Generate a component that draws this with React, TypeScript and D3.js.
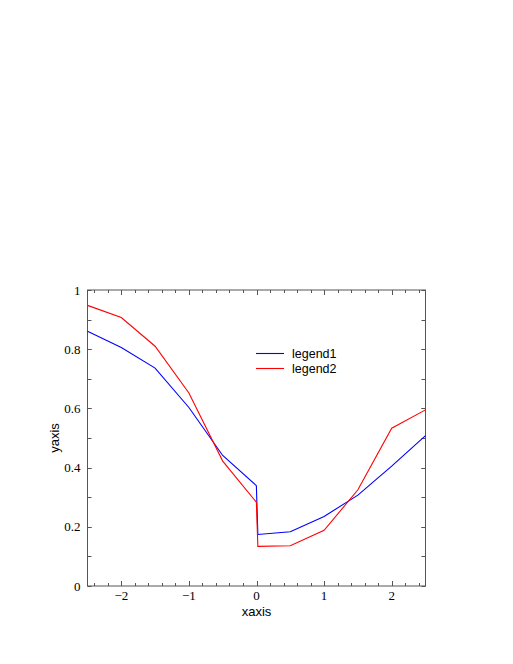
import * as d3 from 'd3';
import { useEffect, useRef } from 'react';

// x positions; 0 appears twice because of the jump
const xValues = [-2.5, -2, -1.5, -1, -0.5, -0.002, 0.02, 0.5, 1, 1.5, 2, 2.5];
const legend1 = [0.861, 0.806, 0.736, 0.603, 0.441, 0.339, 0.174, 0.183, 0.235, 0.307, 0.405, 0.508];
const legend2 = [0.948, 0.907, 0.81, 0.652, 0.422, 0.283, 0.134, 0.136, 0.188, 0.325, 0.533, 0.595];
const seriesNames = ['legend1', 'legend2'];
const seriesColors = ['#0000ff', '#ff0000'];
const xTicks = [-2, -1, 0, 1, 2];
const yTicks = [0, 0.2, 0.4, 0.6, 0.8, 1];

const App = () => {
  const ref = useRef<SVGSVGElement>(null);

  useEffect(() => {
    const svg = d3.select(ref.current);
    svg.selectAll('*').remove();

    const left = 87.5, right = 425.5, top = 290, bottom = 586;
    const x = d3.scaleLinear().domain([-2.5, 2.5]).range([left, right]);
    const y = d3.scaleLinear().domain([0, 1]).range([bottom, top]);
    const frameColor = '#555';

    // minor and major ticks, inward on all four sides
    const xMinor = d3.range(-2.4, 2.41, 0.2).map((v) => +v.toFixed(2));
    const yMinor = d3.range(0.1, 1, 0.1).map((v) => +v.toFixed(2));
    const tickG = svg.append('g').attr('stroke', frameColor).attr('stroke-width', 1);

    const drawX = (vals: number[], len: number) => {
      vals.forEach((v) => {
        const px = Math.round(x(v)) + 0.5;
        tickG.append('line').attr('x1', px).attr('x2', px).attr('y1', bottom).attr('y2', bottom - len);
        tickG.append('line').attr('x1', px).attr('x2', px).attr('y1', top).attr('y2', top + len);
      });
    };
    const drawY = (vals: number[], len: number) => {
      vals.forEach((v) => {
        const py = Math.round(y(v)) + 0.5;
        tickG.append('line').attr('y1', py).attr('y2', py).attr('x1', left).attr('x2', left + len);
        tickG.append('line').attr('y1', py).attr('y2', py).attr('x1', right).attr('x2', right - len);
      });
    };
    drawX(xMinor, 3);
    drawX(xTicks, 5);
    drawY(yMinor, 4);
    drawY(yTicks, 4);

    svg
      .append('rect')
      .attr('x', left)
      .attr('y', top)
      .attr('width', right - left)
      .attr('height', bottom - top)
      .attr('fill', 'none')
      .attr('stroke', frameColor)
      .attr('stroke-width', 1);

    const fmt = d3.format('');
    svg
      .append('g')
      .selectAll('text')
      .data(xTicks)
      .join('text')
      .attr('x', (d) => x(d))
      .attr('y', 600)
      .attr('text-anchor', 'middle')
      .style('font-family', '"Liberation Serif", serif')
      .style('font-size', '13px')
      .text((d) => fmt(d));

    svg
      .append('g')
      .selectAll('text')
      .data(yTicks)
      .join('text')
      .attr('x', 80.5)
      .attr('y', (d) => y(d) + 4.5)
      .attr('text-anchor', 'end')
      .style('font-family', '"Liberation Serif", serif')
      .style('font-size', '13px')
      .text((d) => fmt(d));

    svg
      .append('text')
      .attr('x', x(0))
      .attr('y', 616)
      .attr('text-anchor', 'middle')
      .style('font-family', '"Liberation Sans", sans-serif')
      .style('font-size', '13px')
      .text('xaxis');

    svg
      .append('text')
      .attr('transform', `translate(59, ${(top + bottom) / 2}) rotate(-90)`)
      .attr('text-anchor', 'middle')
      .style('font-family', '"Liberation Sans", sans-serif')
      .style('font-size', '13px')
      .text('yaxis');

    const line = d3
      .line<number>()
      .x((_, i) => x(xValues[i]))
      .y((d) => y(d));

    [legend1, legend2].forEach((vals, i) => {
      svg
        .append('path')
        .datum(vals)
        .attr('d', line)
        .attr('fill', 'none')
        .attr('stroke', seriesColors[i])
        .attr('stroke-width', 1.1);
    });

    // legend
    const lg = svg.append('g');
    seriesNames.forEach((name, i) => {
      const ly = 353.5 + i * 15;
      lg.append('line')
        .attr('x1', 256)
        .attr('x2', 284)
        .attr('y1', ly)
        .attr('y2', ly)
        .attr('stroke', seriesColors[i])
        .attr('stroke-width', 1.1);
      lg.append('text')
        .attr('x', 292)
        .attr('y', ly + 4.5)
        .style('font-family', '"Liberation Sans", sans-serif')
        .style('font-size', '12.5px')
        .text(name);
    });
  }, []);

  return (
    <svg
      ref={ref}
      width={513}
      height={664}
      style={{ position: 'absolute', left: 0, top: 0, background: 'white' }}
    ></svg>
  );
};

export default App;
